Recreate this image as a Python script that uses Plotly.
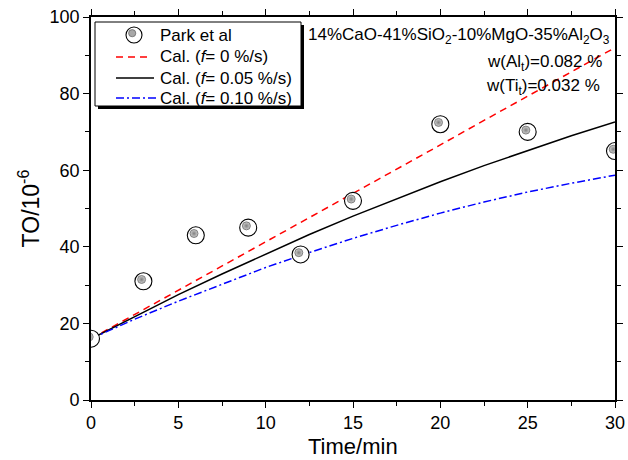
import plotly.graph_objects as go

# Measured total oxygen (Park et al)
time_meas = [0, 3, 6, 9, 12, 15, 20, 25, 30]
to_meas = [16, 31, 43, 45, 38, 52, 72, 70, 65]

# Calculated curves
time_calc = [0, 2.5, 5, 7.5, 10, 12.5, 15, 17.5, 20, 22.5, 25, 27.5, 30]
to_f0 = [16, 22.3, 28.7, 35.0, 41.3, 47.6, 54.0, 60.3, 66.6, 73.0, 79.3, 85.6, 92.0]
to_f005 = [16, 21.8, 27.5, 32.9, 38.1, 43.2, 48.0, 52.6, 57.0, 61.2, 65.2, 69.0, 72.6]
to_f010 = [16, 21.1, 25.8, 30.3, 34.6, 38.5, 42.2, 45.6, 48.8, 51.7, 54.3, 56.6, 58.7]

legend_labels = ["Park et al", "Cal. (<i>f</i>= 0 %/s)",
                 "Cal. (<i>f</i>= 0.05 %/s)", "Cal. (<i>f</i>= 0.10 %/s)"]

W, H = 628, 460
ML, MR, MT, MB = 91, 13, 17, 60
PW, PH = W - ML - MR, H - MT - MB
X_RANGE = [0, 30]
Y_RANGE = [0, 100]
FONT = "Liberation Sans, Arial, sans-serif"

RED, BLACK, BLUE = "#ff0000", "#000000", "#0000ff"
RED_DASH = "7px,5px"
BLUE_DASH = "8px,3px,2px,3px"


def px(x):
    return (x - ML) / PW


def py(y):
    return 1 - (y - MT) / PH


fig = go.Figure()

fig.add_trace(go.Scatter(x=time_calc, y=to_f0, mode="lines",
                         line=dict(color=RED, width=1.5, dash=RED_DASH)))
fig.add_trace(go.Scatter(x=time_calc, y=to_f005, mode="lines",
                         line=dict(color=BLACK, width=1.5)))
fig.add_trace(go.Scatter(x=time_calc, y=to_f010, mode="lines",
                         line=dict(color=BLUE, width=1.5, dash=BLUE_DASH)))

# open circle with a small shaded sphere inside, set slightly up-left
fig.add_trace(go.Scatter(x=time_meas, y=to_meas, mode="markers",
                         marker=dict(symbol="circle", size=17, color="white",
                                     line=dict(color="black", width=1.1))))
dx = -1.8 * (X_RANGE[1] - X_RANGE[0]) / PW
dy = 1.8 * (Y_RANGE[1] - Y_RANGE[0]) / PH
fig.add_trace(go.Scatter(x=[t + dx for t in time_meas], y=[v + dy for v in to_meas],
                         mode="markers",
                         marker=dict(symbol="circle", size=8, color="#d0d0d0",
                                     gradient=dict(type="radial", color="#808080"),
                                     line=dict(color="#6a6a6a", width=0.8))))

shapes = []
annotations = []

# legend box with drop shadow
lx0, ly0, lx1, ly1 = 95, 22, 301, 106
shapes.append(dict(type="rect", xref="paper", yref="paper", layer="above",
                   x0=px(lx0 + 3), x1=px(lx1 + 3), y0=py(ly1 + 3), y1=py(ly0 + 3),
                   fillcolor="black", line=dict(width=0)))
shapes.append(dict(type="rect", xref="paper", yref="paper", layer="above",
                   x0=px(lx0), x1=px(lx1), y0=py(ly1), y1=py(ly0),
                   fillcolor="white", line=dict(color="black", width=1)))

rows = [35, 57, 78, 98]
# marker sample
shapes.append(dict(type="circle", xref="paper", yref="paper", layer="above",
                   x0=px(134 - 8), x1=px(134 + 8), y0=py(rows[0] + 8), y1=py(rows[0] - 8),
                   fillcolor="white", line=dict(color="black", width=1.1)))
shapes.append(dict(type="circle", xref="paper", yref="paper", layer="above",
                   x0=px(132.2 - 3.6), x1=px(132.2 + 3.6), y0=py(rows[0] - 1.8 + 3.6),
                   y1=py(rows[0] - 1.8 - 3.6),
                   fillcolor="#a8a8a8", line=dict(color="#6a6a6a", width=0.8)))
# line samples
for row, col, dash, xe in [(rows[1], RED, RED_DASH, 151), (rows[2], BLACK, "solid", 154),
                           (rows[3], BLUE, BLUE_DASH, 157)]:
    shapes.append(dict(type="line", xref="paper", yref="paper", layer="above",
                       x0=px(116), x1=px(xe), y0=py(row), y1=py(row),
                       line=dict(color=col, width=1.5, dash=dash)))
for row, lab in zip(rows, legend_labels):
    annotations.append(dict(xref="paper", yref="paper", x=px(158), y=py(row),
                            xanchor="left", yanchor="middle", text=lab, showarrow=False,
                            font=dict(family=FONT, size=17, color="black")))

annotations.append(dict(xref="paper", yref="paper", x=px(612), y=py(36),
                        xanchor="right", yanchor="middle", showarrow=False,
                        text="14%CaO-41%SiO<sub>2</sub>-10%MgO-35%Al<sub>2</sub>O<sub>3</sub>",
                        font=dict(family=FONT, size=17, color="black")))
annotations.append(dict(xref="paper", yref="paper", x=px(604), y=py(63),
                        xanchor="right", yanchor="middle", showarrow=False,
                        text="w(Al<sub>t</sub>)=0.082 %",
                        font=dict(family=FONT, size=17, color="black")))
annotations.append(dict(xref="paper", yref="paper", x=px(602), y=py(87),
                        xanchor="right", yanchor="middle", showarrow=False,
                        text="w(Ti<sub>t</sub>)=0.032 %",
                        font=dict(family=FONT, size=17, color="black")))

# x-axis title, placed just below the tick labels
annotations.append(dict(xref="paper", yref="paper", x=0.5, y=py(461),
                        xanchor="center", yanchor="bottom", showarrow=False,
                        text="Time/min",
                        font=dict(family=FONT, size=22, color="black")))

axis_common = dict(showgrid=False, zeroline=False, showline=True, linecolor="black",
                   linewidth=1.6, ticks="outside", tickcolor="black", tickwidth=1.4,
                   ticklen=6, mirror="ticks", automargin=False,
                   tickfont=dict(family=FONT, size=18, color="black"))

fig.update_layout(
    width=W, height=H,
    margin=dict(l=ML, r=MR, t=MT, b=MB, pad=0),
    paper_bgcolor="white", plot_bgcolor="white",
    showlegend=False,
    shapes=shapes, annotations=annotations,
    xaxis=dict(range=X_RANGE, dtick=5, **axis_common,
               minor=dict(ticks="outside", dtick=2.5, ticklen=4, tickcolor="black", tickwidth=1.4)),
    yaxis=dict(range=Y_RANGE, dtick=20, **axis_common,
               minor=dict(ticks="outside", dtick=10, ticklen=4, tickcolor="black", tickwidth=1.4),
               title=dict(text="TO/10<sup>-6</sup>", standoff=4,
                          font=dict(family=FONT, size=23, color="black"))),
)

fig.write_html("out.html")
